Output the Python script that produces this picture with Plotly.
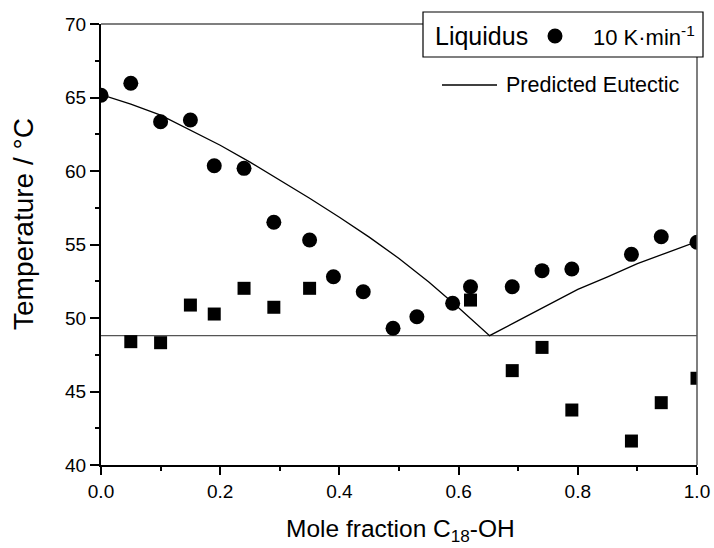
import plotly.graph_objects as go

# Liquidus points measured at 10 K/min (circles)
liq_x = [0.0, 0.05, 0.10, 0.15, 0.19, 0.24, 0.29, 0.35, 0.39, 0.44, 0.49,
         0.53, 0.59, 0.62, 0.69, 0.74, 0.79, 0.89, 0.94, 1.0]
liq_t = [65.15, 65.97, 63.35, 63.47, 60.36, 60.18, 56.51, 55.31, 52.81, 51.79, 49.30,
         50.09, 51.00, 52.13, 52.13, 53.22, 53.33, 54.33, 55.53, 55.15]

# Second transition (squares)
sol_x = [0.05, 0.10, 0.15, 0.19, 0.24, 0.29, 0.35, 0.62, 0.69, 0.74, 0.79, 0.89, 0.94, 1.0]
sol_t = [48.39, 48.32, 50.88, 50.27, 52.02, 50.73, 52.02, 51.22, 46.42, 48.00, 43.74, 41.63, 44.24, 45.90]

# Predicted eutectic liquidus
pred_x = [0.0, 0.05, 0.10, 0.15, 0.20, 0.25, 0.30, 0.35, 0.40, 0.45, 0.50, 0.55, 0.60, 0.652,
          0.70, 0.75, 0.80, 0.85, 0.90, 0.95, 1.0]
pred_t = [65.2, 64.55, 63.8, 62.8, 61.75, 60.6, 59.4, 58.15, 56.85, 55.5, 54.05, 52.45, 50.7, 48.8,
          49.82, 50.88, 51.95, 52.8, 53.7, 54.45, 55.2]

# Eutectic temperature
eut_x = [0.0, 1.0]
eut_t = [48.8, 48.8]

x_ticks = [0.0, 0.2, 0.4, 0.6, 0.8, 1.0]
y_ticks = [40, 45, 50, 55, 60, 65, 70]

FONT = "Liberation Sans, Arial, Helvetica, sans-serif"

fig = go.Figure()
fig.add_trace(go.Scatter(x=eut_x, y=eut_t, mode="lines",
                         line=dict(color="#555555", width=1.2), showlegend=False))
fig.add_trace(go.Scatter(x=pred_x, y=pred_t, mode="lines",
                         line=dict(color="black", width=1.3), showlegend=False))
fig.add_trace(go.Scatter(x=sol_x, y=sol_t, mode="markers",
                         marker=dict(symbol="square", size=13, color="black"), showlegend=False))
fig.add_trace(go.Scatter(x=liq_x, y=liq_t, mode="markers",
                         marker=dict(symbol="circle", size=15, color="black"), showlegend=False))

L, R, T, B = 101, 17, 24, 83
W, H = 714, 548
pw, ph = W - L - R, H - T - B


def px(xp):
    return (xp - L) / pw


def py(yp):
    return (H - B - yp) / ph


shapes = [
    # right and top frame
    dict(type="line", xref="paper", yref="paper", x0=1, x1=1, y0=0, y1=1,
         line=dict(color="#555555", width=1.5), layer="above"),
    dict(type="line", xref="paper", yref="paper", x0=0, x1=1, y0=1, y1=1,
         line=dict(color="#555555", width=1.5), layer="above"),
    # legend box
    dict(type="rect", xref="paper", yref="paper", x0=px(423), x1=px(703), y0=py(57), y1=py(12),
         fillcolor="white", line=dict(color="black", width=1.2), layer="above"),
    dict(type="circle", xref="paper", yref="paper", x0=px(547.5), x1=px(562.5),
         y0=py(43.5), y1=py(28.5), fillcolor="black", line=dict(color="black", width=0),
         layer="above"),
    dict(type="line", xref="paper", yref="paper", x0=px(442), x1=px(497), y0=py(85), y1=py(85),
         line=dict(color="black", width=1.3), layer="above"),
]

annotations = [
    dict(text="Liquidus", xref="paper", yref="paper", x=px(433), y=py(36), xanchor="left",
         yanchor="middle", showarrow=False, font=dict(family=FONT, size=25, color="black")),
    dict(text="10 K·min<sup>-1</sup>", xref="paper", yref="paper", x=px(591), y=py(36),
         xanchor="left", yanchor="middle", showarrow=False,
         font=dict(family=FONT, size=22, color="black")),
    dict(text="Predicted Eutectic", xref="paper", yref="paper", x=px(504), y=py(85),
         xanchor="left", yanchor="middle", showarrow=False,
         font=dict(family=FONT, size=21.5, color="black")),
    # axis titles
    dict(text="Mole fraction C<sub>18</sub>-OH", xref="paper", yref="paper", x=px(400), y=py(530),
         xanchor="center", yanchor="middle", showarrow=False,
         font=dict(family=FONT, size=24.5, color="black")),
    dict(text="Temperature / °C", xref="paper", yref="paper", x=px(23), y=py(224),
         xanchor="center", yanchor="middle", textangle=-90, showarrow=False,
         font=dict(family=FONT, size=28, color="black")),
]

fig.update_layout(
    width=W, height=H,
    margin=dict(l=L, r=R, t=T, b=B, pad=0, autoexpand=False),
    paper_bgcolor="white", plot_bgcolor="white",
    font=dict(family=FONT, color="black"),
    shapes=shapes, annotations=annotations,
    showlegend=False,
)

fig.update_xaxes(
    range=[0, 1], tickvals=x_ticks, ticktext=[f"{v:.1f}" for v in x_ticks],
    showgrid=False, zeroline=False,
    showline=True, linecolor="black", linewidth=2,
    ticks="outside", ticklen=8, tickwidth=1.5, tickcolor="black",
    minor=dict(dtick=0.1, ticks="outside", ticklen=4, tickwidth=1.5, tickcolor="black"),
    tickfont=dict(family=FONT, size=19),
)
fig.update_yaxes(
    range=[40, 70], tickvals=y_ticks,
    showgrid=False, zeroline=False,
    showline=True, linecolor="black", linewidth=2,
    ticks="outside", ticklen=9, tickwidth=1.5, tickcolor="black",
    minor=dict(dtick=2.5, ticks="outside", ticklen=4, tickwidth=1.5, tickcolor="black"),
    tickfont=dict(family=FONT, size=19),
)

fig.write_html("out.html")
